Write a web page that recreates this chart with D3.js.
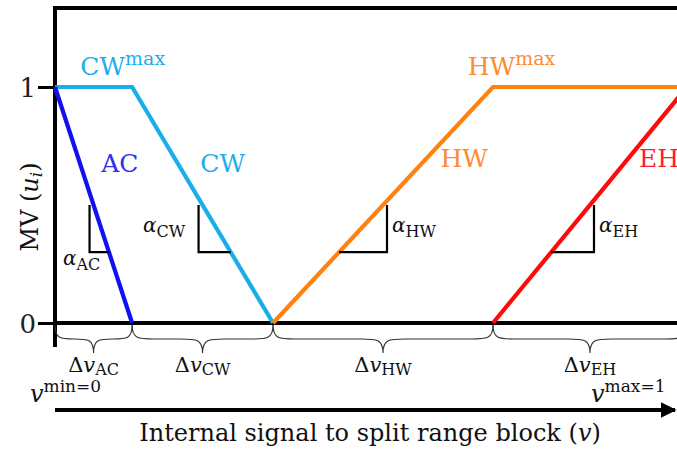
<!DOCTYPE html>
<html>
<head>
<meta charset="utf-8">
<script src="https://cdn.jsdelivr.net/npm/d3@7"></script>
<style>
  html, body { margin: 0; padding: 0; background: #fff; }
  svg { display: block; }
  text { font-family: "DejaVu Serif", "Liberation Serif", serif; }
</style>
</head>
<body>
<svg id="chart" width="677" height="449"></svg>
<script>
// Split-range characteristics: manipulated variable (MV) vs internal signal v
const breakpoints = [0, 0.122, 0.345, 0.693, 1.0];
const vAC = [0, 0.122];            const mvAC = [1, 0];
const vCW = [0, 0.122, 0.345];     const mvCW = [1, 1, 0];
const vHW = [0.345, 0.693, 1.0];   const mvHW = [0, 1, 1];
const vEH = [0.693, 1.0];          const mvEH = [0, 1];
const yTicks = [0, 1];
const braceLabels = ["AC", "CW", "HW", "EH"];

const colors = { AC: "#1010f0", CW: "#1aaee8", HW: "#ff8210", EH: "#ff0a0a" };
const textColors = { AC: "#3030ee", CW: "#20aee8", HW: "#ff8a30", EH: "#ff1a36" };

const svg = d3.select("#chart");
const x = d3.scaleLinear().domain([0, 1]).range([55, 687]);
const y = d3.scaleLinear().domain([0, 1]).range([323, 87]);

const line = d3.line().x(d => x(d[0])).y(d => y(d[1]));
const zip = (a, b) => a.map((v, i) => [v, b[i]]);

// frame: top border and left axis
svg.append("line").attr("x1", x(0)).attr("x2", 677).attr("y1", 8).attr("y2", 8)
  .attr("stroke", "#000").attr("stroke-width", 4);
svg.append("line").attr("x1", x(0)).attr("x2", x(0)).attr("y1", 6).attr("y2", 347)
  .attr("stroke", "#000").attr("stroke-width", 4);

// y ticks
const yAxis = d3.axisLeft(y).tickValues(yTicks).tickSize(17).tickPadding(2).tickFormat(d3.format("d"));
const yg = svg.append("g").attr("transform", `translate(${x(0)},0)`).call(yAxis);
yg.select(".domain").remove();
yg.selectAll(".tick line").attr("stroke", "#000").attr("stroke-width", 3);
yg.selectAll(".tick text").attr("font-size", 26).attr("fill", "#222")
  .attr("font-family", "DejaVu Serif, serif").attr("dy", "0.36em");

// x axis line at MV = 0
svg.append("line").attr("x1", x(0) - 2).attr("x2", 677).attr("y1", y(0)).attr("y2", y(0))
  .attr("stroke", "#000").attr("stroke-width", 4);

// characteristic lines
const series = [
  ["CW", zip(vCW, mvCW)],
  ["HW", zip(vHW, mvHW)],
  ["EH", zip(vEH, mvEH)],
  ["AC", zip(vAC, mvAC)]
];
series.forEach(([k, pts]) => {
  svg.append("path").attr("d", line(pts)).attr("fill", "none")
    .attr("stroke", colors[k]).attr("stroke-width", 4.2).attr("stroke-linejoin", "miter");
});

// slope triangles (between MV 0.3 and 0.5)
const triTop = 0.5, triBot = 0.3;
function vAt(v0, v1, m0, m1, m) { return v0 + (v1 - v0) * (m - m0) / (m1 - m0); }
const tris = [
  { side: "left",  v0: vAC[0], v1: vAC[1], m0: 1, m1: 0 },
  { side: "left",  v0: vCW[1], v1: vCW[2], m0: 1, m1: 0 },
  { side: "right", v0: vHW[0], v1: vHW[1], m0: 0, m1: 1 },
  { side: "right", v0: vEH[0], v1: vEH[1], m0: 0, m1: 1 }
];
tris.forEach(t => {
  const vTop = vAt(t.v0, t.v1, t.m0, t.m1, triTop);
  const vBot = vAt(t.v0, t.v1, t.m0, t.m1, triBot);
  const off = t.side === "left" ? -4 : 4;
  const xv = x(vTop) + off;
  svg.append("path")
    .attr("d", `M${xv},${y(triTop)} L${xv},${y(triBot)} L${x(vBot)},${y(triBot)}`)
    .attr("fill", "none").attr("stroke", "#000").attr("stroke-width", 2.2);
});

// text helpers
function label(px, py, main, sup, sub, color, size, subSize, italicMain, subDy) {
  const t = svg.append("text").attr("x", px).attr("y", py).attr("fill", color)
    .attr("font-size", size);
  const m = t.append("tspan").text(main);
  if (italicMain) m.attr("font-style", "italic");
  if (sup) t.append("tspan").attr("font-size", subSize).attr("dy", -size * 0.42).text(sup);
  if (sub) t.append("tspan").attr("font-size", subSize).attr("dy", subDy != null ? subDy : size * 0.28).text(sub);
  return t;
}

// series names
label(x(0.04), y(1) - 12, "CW", "max", null, textColors.CW, 25, 19);
label(x(0.653), y(1) - 12, "HW", "max", null, textColors.HW, 25, 19);
label(x(0.073), y(0.64), "AC", null, null, textColors.AC, 25);
label(x(0.23), y(0.64), "CW", null, null, textColors.CW, 25);
label(x(0.61), y(0.66), "HW", null, null, textColors.HW, 25);
label(x(0.924), y(0.66), "EH", null, null, textColors.EH, 25);

// slope labels
label(63, 265, "α", null, "AC", "#111", 20, 16, true, 5);
label(143, 232, "α", null, "CW", "#111", 20, 16, true, 5);
label(392, 232, "α", null, "HW", "#111", 20, 16, true, 5);
label(599, 232, "α", null, "EH", "#111", 20, 16, true, 5);

// curly braces under each interval
function brace(x1, x2, y0, h) {
  const xm = (x1 + x2) / 2, s = h * 0.5, r = Math.min(22, (x2 - x1) / 4);
  return `M${x1},${y0} C${x1},${y0 + s} ${x1 + r * 0.3},${y0 + s} ${x1 + r},${y0 + s}
          L${xm - r},${y0 + s} C${xm - r * 0.3},${y0 + s} ${xm},${y0 + s} ${xm},${y0 + h}
          C${xm},${y0 + s} ${xm + r * 0.3},${y0 + s} ${xm + r},${y0 + s}
          L${x2 - r},${y0 + s} C${x2 - r * 0.3},${y0 + s} ${x2},${y0 + s} ${x2},${y0}`;
}
for (let i = 0; i < breakpoints.length - 1; i++) {
  const x1 = x(breakpoints[i]), x2 = x(breakpoints[i + 1]);
  svg.append("path").attr("d", brace(x1, x2, y(0) + 2, 28))
    .attr("fill", "none").attr("stroke", "#333").attr("stroke-width", 1.1);
  const t = svg.append("text").attr("x", (x1 + x2) / 2).attr("y", 372)
    .attr("text-anchor", "middle").attr("fill", "#111").attr("font-size", 21);
  t.append("tspan").text("Δ");
  t.append("tspan").attr("font-style", "italic").text("v");
  t.append("tspan").attr("font-size", 16).attr("dy", 3).text(braceLabels[i]);
}

// range end labels
function vLabel(px, sup) {
  const t = svg.append("text").attr("x", px).attr("y", 402).attr("fill", "#111").attr("font-size", 24);
  t.append("tspan").attr("font-style", "italic").text("v");
  t.append("tspan").attr("font-size", 17).attr("dy", -10).text(sup);
}
vLabel(30, "min=0");
vLabel(591, "max=1");

// signal arrow
svg.append("defs").append("marker").attr("id", "arrow")
  .attr("viewBox", "0 0 10 10").attr("refX", 9).attr("refY", 5)
  .attr("markerWidth", 4).attr("markerHeight", 4).attr("orient", "auto")
  .append("path").attr("d", "M0,0 L10,5 L0,10 z").attr("fill", "#000");
svg.append("line").attr("x1", x(0)).attr("x2", 675).attr("y1", 410).attr("y2", 410)
  .attr("stroke", "#000").attr("stroke-width", 4).attr("marker-end", "url(#arrow)");

// axis titles
const xt = svg.append("text").attr("x", 370).attr("y", 441).attr("text-anchor", "middle")
  .attr("font-size", 24).attr("fill", "#111");
xt.append("tspan").text("Internal signal to split range block (");
xt.append("tspan").attr("font-style", "italic").text("v");
xt.append("tspan").text(")");

const yt = svg.append("text").attr("transform", "translate(38,207) rotate(-90)")
  .attr("text-anchor", "middle").attr("font-size", 24).attr("fill", "#111");
yt.append("tspan").text("MV (");
yt.append("tspan").attr("font-style", "italic").text("u");
yt.append("tspan").attr("font-style", "italic").attr("font-size", 17).attr("dy", 4).text("i");
yt.append("tspan").attr("dy", -4).text(")");
</script>
</body>
</html>
